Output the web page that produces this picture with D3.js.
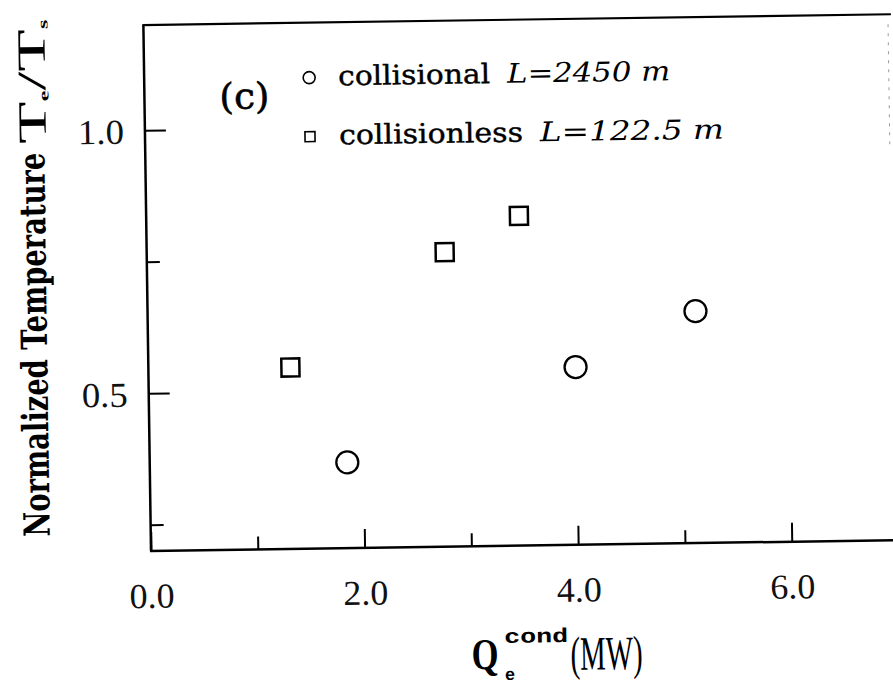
<!DOCTYPE html>
<html>
<head>
<meta charset="utf-8">
<script src="https://cdn.jsdelivr.net/npm/d3@7"></script>
<style>
  html, body { margin: 0; padding: 0; background: #fff; }
  svg { display: block; }
</style>
</head>
<body>
<svg id="chart" width="893" height="689"></svg>
<script>
// values
const collisionalQ = [1.85, 4.00, 5.13];
const collisionalT = [0.363, 0.538, 0.641];
const collisionlessQ = [1.33, 2.79, 3.49];
const collisionlessT = [0.545, 0.760, 0.827];

const xMajorTicks = [0, 2, 4, 6];
const xMinorTicks = [1, 3, 5];
const yMajorTicks = [0.5, 1.0];
const yMinorTicks = [0.25, 0.75];

const legendNames = ["collisional", "collisionless"];
const legendLengths = ["L=2450 m", "L=122.5 m"];

const svg = d3.select("#chart");

const margin = { top: 25, left: 151, bottom: 551 };
const unit = 106.8;

// the scan is tilted a little, so the whole plot is turned round the origin corner
const g = svg.append("g")
  .attr("transform", `rotate(-0.83, ${margin.left}, ${margin.bottom})`);

const x = d3.scaleLinear()
  .domain([0, 7])
  .range([margin.left, margin.left + 7 * unit]);

const y = d3.scaleLinear()
  .domain([0.2, 1.2])
  .range([margin.bottom, margin.top]);

const serif = "'Liberation Serif', 'Times New Roman', serif";

function styleAxis(sel) {
  sel.select(".domain").remove();
  sel.selectAll(".tick line").attr("stroke", "#000").attr("stroke-width", 2);
  sel.attr("font-family", serif).attr("font-size", 35);
  sel.selectAll(".tick text").attr("fill", "#111");
}

// x axis
g.append("g")
  .attr("transform", `translate(0, ${margin.bottom})`)
  .call(d3.axisBottom(x).tickValues(xMajorTicks).tickSize(-19).tickPadding(32)
    .tickFormat(d3.format(".1f")))
  .call(styleAxis)
  .selectAll(".tick text")
  .attr("textLength", 45)
  .attr("lengthAdjust", "spacingAndGlyphs");

g.append("g")
  .attr("transform", `translate(0, ${margin.bottom})`)
  .call(d3.axisBottom(x).tickValues(xMinorTicks).tickSize(-13).tickFormat(""))
  .call(styleAxis);

// y axis
g.append("g")
  .attr("transform", `translate(${margin.left}, 0)`)
  .call(d3.axisLeft(y).tickValues(yMajorTicks).tickSize(-21).tickPadding(21)
    .tickFormat(d3.format(".1f")))
  .call(styleAxis)
  .selectAll(".tick text")
  .attr("dy", "0.36em")
  .attr("textLength", 46)
  .attr("lengthAdjust", "spacingAndGlyphs");

g.append("g")
  .attr("transform", `translate(${margin.left}, 0)`)
  .call(d3.axisLeft(y).tickValues(yMinorTicks).tickSize(-13).tickFormat(""))
  .call(styleAxis);

// frame
const x0 = x.range()[0], x1 = x.range()[1];
const yb = y.range()[0], yt = y.range()[1];
g.append("line").attr("x1", x0).attr("x2", x0).attr("y1", yt).attr("y2", yb)
  .attr("stroke", "#000").attr("stroke-width", 2.5);
g.append("line").attr("x1", x0 - 1).attr("x2", x1).attr("y1", yb).attr("y2", yb)
  .attr("stroke", "#000").attr("stroke-width", 2.5);
g.append("line").attr("x1", x0 - 1).attr("x2", x1).attr("y1", yt).attr("y2", yt)
  .attr("stroke", "#000").attr("stroke-width", 2.2);
g.append("line").attr("x1", x1 - 3).attr("x2", x1 - 3).attr("y1", yt + 10).attr("y2", y(0.95))
  .attr("stroke", "#999").attr("stroke-width", 1).attr("stroke-dasharray", "3,6");

// points
const circles = collisionalQ.map((q, i) => ({ q: q, t: collisionalT[i] }));
const squares = collisionlessQ.map((q, i) => ({ q: q, t: collisionlessT[i] }));

g.selectAll(".pt-circle")
  .data(circles)
  .join("circle")
  .attr("class", "pt-circle")
  .attr("cx", d => x(d.q))
  .attr("cy", d => y(d.t))
  .attr("r", 11)
  .attr("fill", "none")
  .attr("stroke", "#000")
  .attr("stroke-width", 2.3);

const sq = 18;
g.selectAll(".pt-square")
  .data(squares)
  .join("rect")
  .attr("class", "pt-square")
  .attr("x", d => x(d.q) - sq / 2)
  .attr("y", d => y(d.t) - sq / 2)
  .attr("width", sq)
  .attr("height", sq)
  .attr("fill", "none")
  .attr("stroke", "#000")
  .attr("stroke-width", 2.5);

// panel label and legend
g.append("text")
  .attr("x", 226)
  .attr("y", 110)
  .attr("font-family", "'DejaVu Serif', serif")
  .attr("font-size", 36)
  .attr("stroke", "#000")
  .attr("stroke-width", 0.6)
  .attr("textLength", 50)
  .attr("lengthAdjust", "spacingAndGlyphs")
  .text("(c)");

const legendRows = [80, 139];
g.append("circle")
  .attr("cx", 316).attr("cy", legendRows[0]).attr("r", 6)
  .attr("fill", "none").attr("stroke", "#000").attr("stroke-width", 1.6);
g.append("rect")
  .attr("x", 311).attr("y", legendRows[1] - 5).attr("width", 10).attr("height", 10)
  .attr("fill", "none").attr("stroke", "#000").attr("stroke-width", 1.6);

const nameLen = [152, 184];
const lenStart = [514, 546];
const lenLen = [163, 184];
legendNames.forEach((name, i) => {
  g.append("text")
    .attr("x", 345)
    .attr("y", legendRows[i] + 8)
    .attr("font-family", "'DejaVu Serif', serif")
    .attr("font-size", 27)
    .attr("stroke", "#000")
    .attr("stroke-width", 0.4)
    .attr("textLength", nameLen[i])
    .attr("lengthAdjust", "spacingAndGlyphs")
    .text(name);
  g.append("text")
    .attr("x", lenStart[i])
    .attr("y", legendRows[i] + 8)
    .attr("font-family", "'DejaVu Serif', serif")
    .attr("font-style", "italic")
    .attr("font-size", 27)
    .attr("textLength", lenLen[i])
    .attr("lengthAdjust", "spacingAndGlyphs")
    .text(legendLengths[i]);
});

// x axis title: Q_e^cond (MW)
g.append("text")
  .attr("x", 470).attr("y", 674)
  .attr("font-family", serif).attr("font-size", 44).attr("font-weight", "bold")
  .attr("textLength", 27).attr("lengthAdjust", "spacingAndGlyphs")
  .text("Q");
g.append("text")
  .attr("x", 503).attr("y", 648)
  .attr("font-family", "'Liberation Mono', monospace").attr("font-size", 20).attr("font-weight", "bold")
  .attr("textLength", 64).attr("lengthAdjust", "spacingAndGlyphs")
  .text("cond");
g.append("text")
  .attr("x", 503).attr("y", 685)
  .attr("font-family", "'Liberation Mono', monospace").attr("font-size", 17).attr("font-weight", "bold")
  .text("e");
g.append("text")
  .attr("x", 569).attr("y", 676)
  .attr("font-family", serif).attr("font-size", 48)
  .attr("textLength", 72).attr("lengthAdjust", "spacingAndGlyphs")
  .text("(MW)");

// y axis title
g.append("text")
  .attr("transform", "translate(50, 535) rotate(-90)")
  .attr("font-family", "'DejaVu Serif', serif")
  .attr("font-size", 36)
  .attr("font-weight", "bold")
  .attr("textLength", 384)
  .attr("lengthAdjust", "spacingAndGlyphs")
  .text("Normalized Temperature");

const ty = g.append("text")
  .attr("transform", "translate(52, 142) rotate(-90)")
  .attr("font-family", serif)
  .attr("font-size", 40)
  .attr("textLength", 124)
  .attr("lengthAdjust", "spacingAndGlyphs");
ty.append("tspan").text("T");
ty.append("tspan").attr("font-size", 14).attr("font-weight", "bold").attr("dy", 3).text("e");
ty.append("tspan").attr("dy", -3).text("/T");
ty.append("tspan").attr("font-size", 14).attr("font-weight", "bold").attr("dy", 3).text("s");
</script>
</body>
</html>
